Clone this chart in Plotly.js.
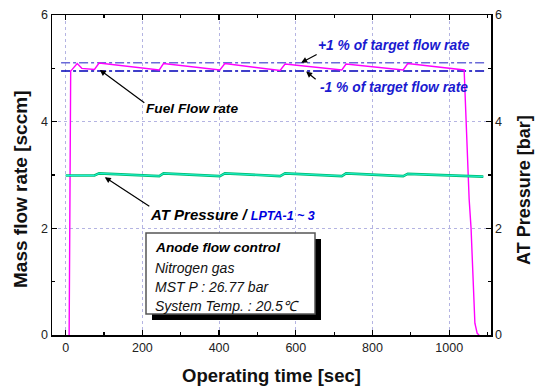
<!DOCTYPE html>
<html>
<head>
<meta charset="utf-8">
<script src="https://cdn.plot.ly/plotly-3.0.1.min.js"></script>
<style>html,body{margin:0;padding:0;background:#fff;}#chart{width:536px;height:387px;}</style>
</head>
<body>
<div id="chart"></div>
<script>
// ---- data ----
const fuelTime = [9, 13, 17, 30, 42, 75, 87, 244, 255, 402, 415, 559, 572, 720, 731, 880, 892, 1039, 1052, 1057, 1067, 1073, 1078];
const fuelFlow = [0, 4.95, 4.98, 5.09, 5.0, 4.98, 5.1, 4.97, 5.09, 4.97, 5.09, 4.96, 5.08, 4.97, 5.08, 4.97, 5.09, 4.97, 2.55, 2.0, 0.22, 0.03, 0];
const presTime = [0, 75, 87, 244, 255, 402, 415, 559, 572, 720, 731, 880, 892, 1089];
const atPressure = [2.99, 2.99, 3.03, 2.98, 3.03, 2.98, 3.03, 2.98, 3.03, 2.98, 3.03, 2.98, 3.02, 2.97];
const refTime = [-12, 1093];
const plusOne = [5.105, 5.105];
const minusOne = [4.95, 4.95];
const xTicks = [0, 200, 400, 600, 800, 1000];
const yTicks = [0, 2, 4, 6];

const FONT = 'Liberation Sans, Arial, sans-serif';
const L = 52, R = 491, T = 15, B = 335;
const px = v => (v - L) / (R - L);
const py = v => (B - v) / (B - T);

const traces = [
  {x: refTime, y: plusOne, mode: 'lines', line: {color: '#6a6ad8', width: 1.5, dash: 'dashdot'}, yaxis: 'y'},
  {x: refTime, y: minusOne, mode: 'lines', line: {color: '#0000b8', width: 1.5, dash: 'dashdot'}, yaxis: 'y'},
  {x: presTime, y: atPressure, mode: 'lines', line: {color: '#00c070', width: 2.6}, yaxis: 'y2'},
  {x: presTime, y: atPressure, mode: 'lines', line: {color: '#20f0d8', width: 1}, yaxis: 'y2'},
  {x: fuelTime, y: fuelFlow, mode: 'lines', line: {color: '#ff00ff', width: 1.4}, yaxis: 'y'}
];

const axBase = {
  showline: true, linecolor: '#000', linewidth: 1.5,
  ticks: 'inside', ticklen: 5, tickwidth: 1.2, tickcolor: '#000',
  showgrid: true, gridcolor: '#b4b4e2', gridwidth: 1, griddash: 'dot',
  zeroline: false,
  tickfont: {family: FONT, size: 12.5, color: '#222'}
};

const layout = {
  width: 536, height: 387,
  margin: {l: L, r: 536 - R, t: T, b: 387 - B},
  paper_bgcolor: '#fff', plot_bgcolor: '#fff',
  showlegend: false,
  xaxis: Object.assign({}, axBase, {
    range: [-35.7, 1109], tickvals: xTicks, mirror: 'ticks',
    minor: {dtick: 100, tick0: 0, ticks: 'inside', ticklen: 3, tickcolor: '#000', showgrid: false}
  }),
  yaxis: Object.assign({}, axBase, {
    range: [0, 6], tickvals: yTicks, mirror: true,
    minor: {dtick: 1, tick0: 0, ticks: 'inside', ticklen: 3, tickcolor: '#000', showgrid: false}
  }),
  yaxis2: Object.assign({}, axBase, {
    range: [0, 6], tickvals: yTicks, overlaying: 'y', side: 'right', showgrid: false,
    minor: {dtick: 1, tick0: 0, ticks: 'inside', ticklen: 3, tickcolor: '#000', showgrid: false}
  }),
  shapes: [
    {type: 'rect', xref: 'paper', yref: 'paper', x0: px(152), x1: px(321), y0: py(320), y1: py(239), fillcolor: '#000', line: {width: 0}},
    {type: 'rect', xref: 'paper', yref: 'paper', x0: px(146), x1: px(315), y0: py(314), y1: py(233), fillcolor: '#fff', line: {color: '#555', width: 1.5}}
  ],
  annotations: [
    // axis titles
    {xref: 'paper', yref: 'paper', x: px(271.5), y: py(375.5), xanchor: 'center', yanchor: 'middle', showarrow: false,
     text: '<b>Operating time [sec]</b>', font: {family: FONT, size: 18.5, color: '#111'}},
    {xref: 'paper', yref: 'paper', x: px(20), y: py(190), xanchor: 'center', yanchor: 'middle', showarrow: false, textangle: -90,
     text: '<b>Mass flow rate [sccm]</b>', font: {family: FONT, size: 19, color: '#111'}},
    {xref: 'paper', yref: 'paper', x: px(524), y: py(190), xanchor: 'center', yanchor: 'middle', showarrow: false, textangle: -90,
     text: '<b>AT Pressure [bar]</b>', font: {family: FONT, size: 18, color: '#111'}},
    // box text
    {xref: 'paper', yref: 'paper', x: px(153), y: py(247.7), xanchor: 'left', yanchor: 'middle', showarrow: false,
     text: '<b><i>Anode flow control</i></b>', font: {family: FONT, size: 13.7, color: '#000'}},
    {xref: 'paper', yref: 'paper', x: px(153), y: py(267.7), xanchor: 'left', yanchor: 'middle', showarrow: false,
     text: '<i>Nitrogen gas</i>', font: {family: FONT, size: 14, color: '#111'}},
    {xref: 'paper', yref: 'paper', x: px(153), y: py(286.7), xanchor: 'left', yanchor: 'middle', showarrow: false,
     text: '<i>MST P : 26.77 bar</i>', font: {family: FONT, size: 14, color: '#111'}},
    {xref: 'paper', yref: 'paper', x: px(153), y: py(305.7), xanchor: 'left', yanchor: 'middle', showarrow: false,
     text: '<i>System Temp. : 20.5℃</i>', font: {family: FONT, size: 14, color: '#111'}},
    // labels
    {xref: 'paper', yref: 'paper', x: px(144), y: py(109), xanchor: 'left', yanchor: 'middle', showarrow: false,
     text: '<b><i>Fuel Flow rate</i></b>', font: {family: FONT, size: 13.7, color: '#000'}},
    {xref: 'paper', yref: 'paper', x: px(148), y: py(214), xanchor: 'left', yanchor: 'middle', showarrow: false,
     text: '<b><i>AT Pressure / <span style="color:#0000e0;font-size:12.5px">LPTA-1 ~ 3</span></i></b>', font: {family: FONT, size: 15, color: '#000'}},
    {xref: 'paper', yref: 'paper', x: px(316), y: py(45.5), xanchor: 'left', yanchor: 'middle', showarrow: false,
     text: '<b><i>+1 % of target flow rate</i></b>', font: {family: FONT, size: 13.8, color: '#1a1ad0'}},
    {xref: 'paper', yref: 'paper', x: px(318), y: py(87), xanchor: 'left', yanchor: 'middle', showarrow: false,
     text: '<b><i>-1 % of target flow rate</i></b>', font: {family: FONT, size: 13.8, color: '#1a1ad0'}},
    // arrows
    {x: 89, y: 4.97, xref: 'x', yref: 'y', text: '', showarrow: true, ax: 46, ay: 34,
     arrowhead: 2, arrowsize: 1, arrowwidth: 1.2, arrowcolor: '#000'},
    {x: 102, y: 2.96, xref: 'x', yref: 'y', text: '', showarrow: true, ax: 46, ay: 30,
     arrowhead: 2, arrowsize: 1, arrowwidth: 1.2, arrowcolor: '#000'},
    {x: 614, y: 5.105, xref: 'x', yref: 'y', text: '', showarrow: true, ax: 17, ay: -9,
     arrowhead: 2, arrowsize: 1, arrowwidth: 1.2, arrowcolor: '#000'},
    {x: 627, y: 4.94, xref: 'x', yref: 'y', text: '', showarrow: true, ax: 11, ay: 9,
     arrowhead: 2, arrowsize: 1, arrowwidth: 1.2, arrowcolor: '#000'}
  ]
};

Plotly.newPlot('chart', traces, layout, {staticPlot: true, displayModeBar: false});
</script>
</body>
</html>
